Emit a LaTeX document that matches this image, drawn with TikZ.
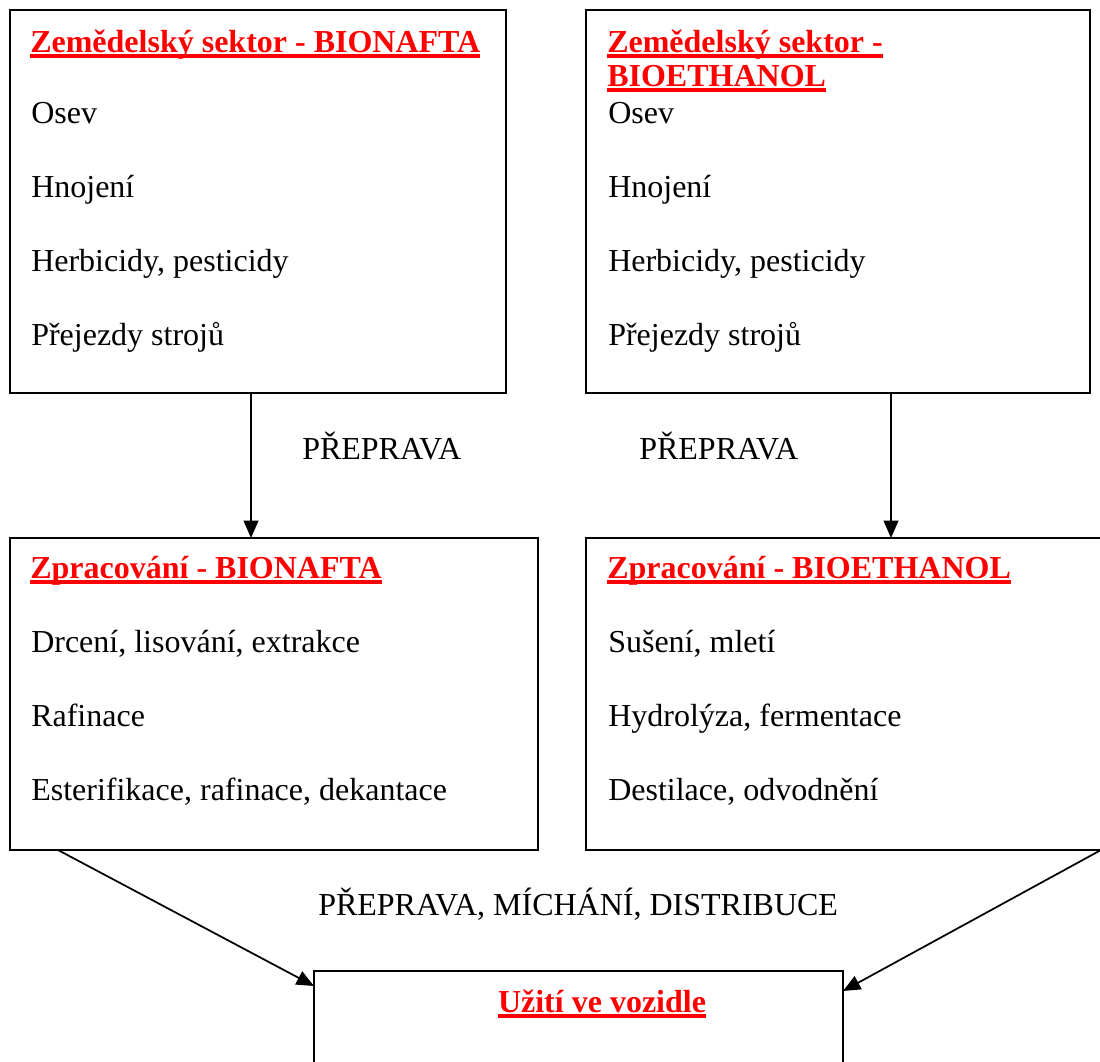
\documentclass[tikz,border=0pt]{standalone}
\usepackage{fontspec}
\setmainfont{Liberation Serif}
\usetikzlibrary{arrows.meta,calc}
\newcommand{\bodyfont}{\fontsize{24}{24.75}\selectfont}
\newcommand{\redline}[1]{\setbox0\hbox{#1}\rlap{\rule[-4.4pt]{\wd0}{2.6pt}}\box0}
\begin{document}
\begin{tikzpicture}[x=0.75pt, y=-0.75pt, font=\bodyfont,
    box/.style={draw, line width=1.5pt, anchor=north west, inner sep=0pt, outer sep=0pt},
    txt/.style={anchor=base west, inner sep=0pt, font=\bodyfont},
    head/.style={txt, text=red, font=\bodyfont\bfseries},
    arr/.style={-{Triangle[length=13pt, width=11pt]}, line width=1.3pt}]
  \useasboundingbox (0,0) rectangle (1100,1061);
  % boxes
  \foreach \n/\x/\y/\w/\h in {zs1/10/10/496/383, zs2/586/10/504/383,
      zp1/10/538/528/312, zp2/586/538/515/312, uz/314/971/529/130}
    \node[box, minimum width=\w*0.75pt, minimum height=\h*0.75pt] (\n) at (\x,\y) {};
  % headings
  \node[head] (h1) at (30,52) {\redline{Zemědelský sektor - BIONAFTA}};
  \node[head] (h2) at (607,52) {\redline{Zemědelský sektor -}};
  \node[head] (h2b) at (607,86) {\redline{BIOETHANOL}};
  \node[head] (h3) at (30,578) {\redline{Zpracování - BIONAFTA}};
  \node[head] (h4) at (607,578) {\redline{Zpracování - BIOETHANOL}};
  \node[head, anchor=base] (h5) at (602,1012) {\redline{Užití ve vozidle}};
  % items
  \foreach \t [count=\i] in {Osev, Hnojení, {Herbicidy, pesticidy}, Přejezdy strojů} {
    \node[txt] (a\i) at (31,49+74*\i) {\t};
    \node[txt] (b\i) at (608,49+74*\i) {\t};
  }
  \foreach \l/\r [count=\i] in {{Drcení, lisování, extrakce}/{Sušení, mletí},
      Rafinace/{Hydrolýza, fermentace},
      {Esterifikace, rafinace, dekantace}/{Destilace, odvodnění}} {
    \node[txt] (c\i) at (31,578+74*\i) {\l};
    \node[txt] (d\i) at (608,578+74*\i) {\r};
  }
  \node[txt] (p1) at (302,459) {PŘEPRAVA};
  \node[txt] (p2) at (639,459) {PŘEPRAVA};
  \node[txt] (p3) at (318,915) {PŘEPRAVA, MÍCHÁNÍ, DISTRIBUCE};
  % connectors
  \path (251,0) coordinate (v1) (891,0) coordinate (v2);
  \draw[arr] (zs1.south -| v1) -- (zp1.north -| v1);
  \draw[arr] (zs2.south -| v2) -- (zp2.north -| v2);
  \draw[arr] ($(zp1.south west)+(48,0)$) -- ($(uz.north west)+(0,15)$);
  \draw[arr] (zp2.south east) -- ($(uz.north east)+(0,20)$);
\end{tikzpicture}
\end{document}
